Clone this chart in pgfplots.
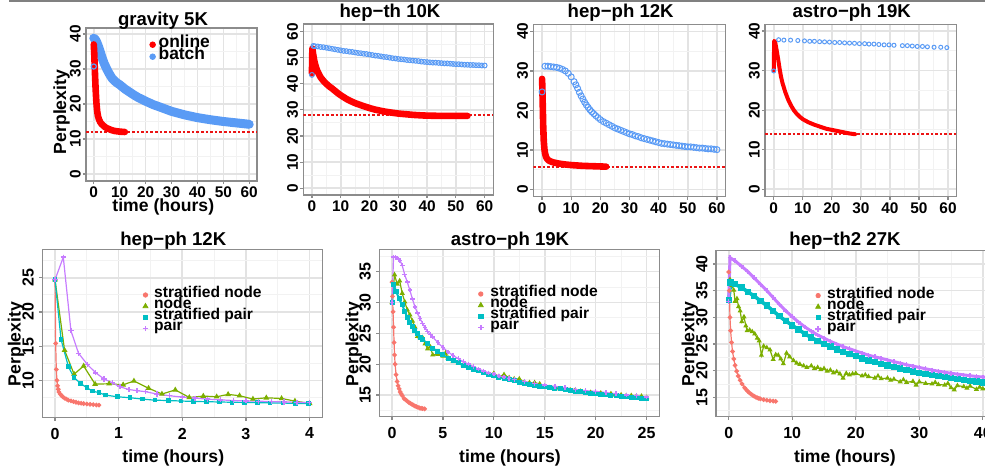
\documentclass[border=0pt]{standalone}
\usepackage{fontspec}
\setmainfont{Liberation Sans}
\usepackage{pgfplots}
\pgfplotsset{compat=1.18}
\definecolor{onl}{RGB}{255,0,0}
\definecolor{dsh}{RGB}{235,20,20}
\definecolor{bat}{HTML}{5A9BF5}
\definecolor{cA}{HTML}{F8766D}
\definecolor{cB}{HTML}{7CAE00}
\definecolor{cC}{HTML}{00BFC4}
\definecolor{cD}{HTML}{C77CFF}
\newcommand\ttl{\bfseries\fontsize{9.3}{10}\selectfont}
\newcommand\lbl{\bfseries\fontsize{8.8}{10}\selectfont}
\pgfplotsset{
 panel/.style={
  scale only axis, anchor=south west,
  axis line style={black!45, line width=0.6pt},
  tick style={black!45, line width=0.6pt},
  tick align=outside, major tick length=1.6pt, minor tick length=0pt,
  tick pos=left,
  grid=both,
  major grid style={gray!22, line width=0.8pt},
  minor grid style={gray!10, line width=0.45pt},
  /pgf/number format/assume math mode=true,
 },
 toprow/.style={panel, xmin=-3, xmax=63, xtick={0,10,...,60}, minor xtick={5,15,...,55},
  tick label style={font=\bfseries\fontsize{7.7}{8}\selectfont},
  yticklabel style={xshift=-0.8pt, rotate=90, anchor=south, inner sep=0pt},
  xticklabel style={yshift=-1pt, anchor=north, inner sep=0pt},
 },
 botrow/.style={panel,
  tick label style={font=\bfseries\fontsize{8}{9}\selectfont},
  yticklabel style={xshift=-2.4pt, rotate=90, anchor=south, inner sep=0pt},
  xticklabel style={yshift=-3.5pt, anchor=north, inner sep=0pt},
  legend cell align=left,
  legend style={draw=none, fill=none, anchor=north west, inner sep=0pt, outer sep=0pt, row sep=0pt,
    nodes={inner sep=0pt, text height=4.0pt, text depth=1.55pt, font=\bfseries\fontsize{7.8}{8}\selectfont}},
 },
 sA/.style={cA, line width=0.6pt, mark=*, mark size=0.85pt, mark options={solid}},
 sB/.style={cB, line width=0.6pt, mark=triangle*, mark size=1.1pt, mark options={solid}},
 sC/.style={cC, line width=0.6pt, mark=square*, mark size=0.85pt, mark options={solid}},
 sD/.style={cD, line width=0.6pt, mark=+, mark size=1.3pt, mark options={solid, line width=0.7pt}},
}
\begin{document}
\begin{tikzpicture}
\draw[black!50, line width=1pt] (4.5pt,233.6pt) -- (492.5pt,233.6pt);
% ---------------- panel 1: gravity 5K
\begin{axis}[toprow, at={(43pt,143.5pt)}, width=85.5pt, height=76.5pt,
  ymin=-2, ymax=41.7, ytick={0,10,...,40}, minor ytick={5,15,25,35},
  legend cell align=left,
  legend style={at={(0.371,0.93)}, anchor=north west, draw=none, fill=none, inner sep=0pt, outer sep=0pt, row sep=0pt,
    nodes={inner sep=0pt, text height=4.6pt, text depth=1.4pt, font=\bfseries\fontsize{8.7}{9}\selectfont}}]
\addplot[color=dsh, line width=0.9pt, dash pattern=on 1.3pt off 1pt, forget plot] coordinates {(-3,12.1) (63,12.1)};
\addplot[bat, line width=4.5pt, line cap=round, line join=round, forget plot] coordinates {
(0,38.8)(0.5,38.5)(1,37.9)(1.5,37)(2,36)(2.5,34.9)(3,33.7)(3.5,32.6)(4,31.6)(5,30)(6,28.6)(7,27.4)(8,26.6)(9,26)(10,25.5)(11,24.9)(12,24.3)(13,23.8)(15,22.8)(17,21.9)(20,20.8)(23,19.8)(26,19)(30,17.9)(35,16.9)(40,16.1)(45,15.5)(50,15)(55,14.6)(60,14.2)};
\addplot[onl, line width=3.3pt, line cap=round, line join=round, forget plot] coordinates {
(0,37)(0.15,35)(0.3,32)(0.5,28)(0.7,24.5)(1,20.5)(1.3,18)(1.6,16.6)(2,15.6)(2.5,14.8)(3,14.3)(4,13.6)(5,13.1)(6,12.8)(7,12.5)(8,12.3)(9,12.2)(10,12.1)(11,12.05)(12,12.0)};
\addplot[bat, only marks, mark=o, mark size=1.3pt, mark options={line width=0.6pt}, forget plot] coordinates {(0,30.7)};
\addlegendimage{legend image code/.code={\fill[onl] (0pt,0pt) circle (1.4pt); \path[draw=none,fill=none] (-1.4pt,0pt) -- (3pt,0pt);}}
\addlegendimage{legend image code/.code={\fill[bat] (0pt,0pt) circle (1.4pt); \path[draw=none,fill=none] (-1.4pt,0pt) -- (3pt,0pt);}}
\legend{online,batch}
\end{axis}
% ---------------- panel 2: hep-th 10K
\begin{axis}[toprow, at={(151.65pt,136.5pt)}, width=95pt, height=85.5pt,
  ymin=-2.6, ymax=62.9, ytick={0,10,...,60}, minor ytick={5,15,...,55}]
\addplot[color=dsh, line width=0.9pt, dash pattern=on 1.3pt off 1pt, forget plot] coordinates {(-3,28) (63,28)};
\addplot[bat, only marks, mark=o, mark size=1.2pt, mark options={line width=0.5pt}] coordinates {
(0.5,54.5)(1,54.4)(2,54.3)(3,54.1)(4,54.0)(5,53.8)(6,53.6)(7,53.4)(8,53.2)(9,53.0)(10,52.8)(11,52.6)(12,52.5)(13,52.3)(14,52.2)(15,52.0)(16,51.8)(17,51.7)(18,51.5)(19,51.4)(20,51.2)(21,51.0)(22,50.8)(23,50.7)(24,50.5)(25,50.3)(26,50.2)(27,50.0)(28,49.8)(29,49.7)(30,49.5)(31,49.4)(32,49.3)(33,49.1)(34,49.0)(35,48.9)(36,48.8)(37,48.7)(38,48.5)(39,48.4)(40,48.3)(41,48.2)(42,48.1)(43,48.1)(44,48.0)(45,47.9)(46,47.8)(47,47.8)(48,47.7)(49,47.6)(50,47.5)(51,47.5)(52,47.4)(53,47.3)(54,47.3)(55,47.2)(56,47.2)(57,47.1)(58,47.1)(59,47.0)(60,47.0)};
\addplot[onl, line width=3.3pt, line cap=round, line join=round] coordinates {
(0,44)(0.15,53.5)(0.4,51.5)(0.7,49.5)(1,47.9)(1.5,46)(2,44.6)(3,42.5)(4,41.1)(5,40)(6,39)(7,38.2)(8,37.3)(9,36.4)(10,35.6)(11,34.9)(12,34.2)(13,33.6)(14,33.1)(15,32.6)(17,31.8)(20,30.7)(22,30.1)(25,29.4)(28,28.9)(30,28.6)(33,28.3)(35,28.1)(38,27.9)(40,27.8)(45,27.7)(50,27.7)(54,27.7)};
\addplot[bat, only marks, mark=o, mark size=1.2pt, mark options={line width=0.5pt}] coordinates {(0,43.4)};
\end{axis}
% ---------------- panel 3: hep-ph 12K
\begin{axis}[toprow, at={(266.65pt,135.65pt)}, width=96.2pt, height=86.2pt,
  ymin=-1.8, ymax=41.8, ytick={0,10,...,40}, minor ytick={5,15,25,35}]
\addplot[color=dsh, line width=0.9pt, dash pattern=on 1.3pt off 1pt, forget plot] coordinates {(-3,5.7) (63,5.7)};
\addplot[bat, only marks, mark=o, mark size=1.5pt, mark options={line width=0.5pt}] coordinates {
(1,31.2)(2,31.2)(3,31.1)(4,31.0)(5,30.9)(6,30.7)(7,30.4)(8,30.0)(9,29.4)(10,28.5)(11,27.3)(11.6,26.5)(12.2,25.6)(12.8,24.6)(13.4,23.7)(14,22.9)(14.6,22.1)(15.2,21.4)(15.8,20.8)(16.4,20.2)(17,19.7)(17.7,19.2)(18.4,18.7)(19.2,18.2)(20,17.7)(21,17.2)(22,16.8)(23,16.4)(24,16.0)(25,15.6)(26,15.3)(27,15.0)(28,14.7)(29,14.4)(30,14.1)(31,13.9)(32,13.6)(33,13.4)(34,13.1)(35,12.9)(36,12.7)(37,12.5)(38,12.3)(39,12.1)(40,11.9)(41,11.7)(42,11.6)(43,11.5)(44,11.4)(45,11.3)(46,11.2)(47,11.1)(48,11.0)(49,10.9)(50,10.8)(51,10.8)(52,10.7)(53,10.6)(54,10.5)(55,10.5)(56,10.4)(57,10.3)(58,10.3)(59,10.2)(60,10.1)};
\addplot[onl, line width=3.3pt, line cap=round, line join=round] coordinates {
(0,28)(0.1,26)(0.25,21)(0.4,16)(0.6,12.2)(0.8,10.3)(1,9.3)(1.3,8.4)(1.7,7.8)(2.2,7.4)(3,7.1)(4,6.85)(5,6.7)(6,6.55)(8,6.35)(10,6.2)(12,6.1)(14,6.0)(16,5.95)(18,5.9)(20,5.85)(22,5.8)};
\addplot[bat, only marks, mark=o, mark size=1.5pt, mark options={line width=0.5pt}] coordinates {(0,24.7)};
\end{axis}
% ---------------- panel 4: astro-ph 19K
\begin{axis}[toprow, at={(382.5pt,135.65pt)}, width=95.85pt, height=86.2pt,
  ymin=-1.9, ymax=41.7, ytick={0,10,...,40}, minor ytick={5,15,25,35}]
\addplot[color=dsh, line width=1pt, dash pattern=on 1.3pt off 1pt, forget plot] coordinates {(-3,14.0) (63,14.0)};
\addplot[bat, only marks, mark=o, mark size=1pt, mark options={line width=0.5pt}] coordinates {
(1.7,37.8)(3.5,37.7)(5.8,37.7)(8.3,37.6)(10.6,37.5)(12.4,37.4)(14.0,37.4)(15.8,37.3)(17.5,37.25)(19.2,37.2)(21.0,37.1)(22.7,37.1)(24.4,37.0)(26.1,36.95)(27.8,36.9)(29.5,36.8)(31.3,36.8)(32.8,36.7)(34.5,36.7)(36.2,36.6)(38.0,36.5)(39.7,36.5)(41.4,36.4)(44.3,36.3)(46.0,36.3)(47.7,36.2)(49.4,36.1)(51.2,36.1)(52.9,36.0)(55.2,35.9)(57.5,35.9)(59.6,35.8)};
\addplot[onl, line width=2pt, line cap=round, line join=round] coordinates {
(0,30)(0.15,37.5)(0.5,37.2)(1,35.2)(1.5,33)(2,30.6)(2.5,28.5)(3,26.9)(4,24.5)(5,22.6)(6,21.1)(7,19.9)(8,19)(9,18.3)(10,17.7)(12,16.9)(14,16.3)(16,15.8)(18,15.3)(20,15)(22,14.7)(24,14.4)(26,14.1)(28,13.9)};
\addplot[bat, only marks, mark=o, mark size=1pt, mark options={line width=0.5pt}] coordinates {(0,29.9)};
\end{axis}
% ---------------- panel 5: hep-ph 12K bottom
\begin{axis}[botrow, at={(21.15pt,25.35pt)}, width=140pt, height=84pt,
  xmin=-0.2, xmax=4.2, ymin=4.6, ymax=29.15,
  xtick={0,1,2,3,4}, minor xtick={0.5,1.5,2.5,3.5},
  ytick={10,15,20,25}, minor ytick={7.5,12.5,17.5,22.5,27.5},
  legend style={at={(0.356,0.761)}}]
\addplot[sA, forget plot] coordinates {(0,24.7)(0.01,15.4)(0.02,11.6)(0.03,10.0)(0.04,9.2)(0.05,8.7)(0.06,8.3)(0.08,8.0)(0.1,7.8)(0.12,7.6)(0.15,7.4)(0.18,7.25)(0.21,7.1)(0.25,7.0)(0.29,6.9)(0.33,6.8)(0.37,6.7)(0.41,6.65)(0.45,6.6)(0.5,6.55)(0.55,6.5)(0.6,6.45)(0.65,6.4)(0.69,6.38)};
\addplot[sB, forget plot] coordinates {(0,24.7)(0.15,14.4)(0.3,10.9)(0.45,12.1)(0.63,9.45)(0.85,9.5)(1.07,9.35)(1.24,9.9)(1.47,8.85)(1.68,8.0)(1.89,8.6)(2.11,7.5)(2.33,7.7)(2.54,7.6)(2.72,7.95)(2.9,7.75)(3.11,7.27)(3.32,7.45)(3.56,7.35)(3.77,6.97)(4.0,6.64)};
\addplot[sC, forget plot] coordinates {(0,24.7)(0.094,16.0)(0.21,12.0)(0.3,10.4)(0.4,9.56)(0.5,8.92)(0.59,8.43)(0.69,8.2)(0.79,7.85)(0.98,7.6)(1.18,7.46)(1.37,7.27)(1.57,7.1)(1.78,7.05)(1.98,6.98)(2.18,6.92)(2.38,6.88)(2.58,6.84)(2.78,6.8)(2.98,6.77)(3.18,6.74)(3.38,6.71)(3.58,6.68)(3.78,6.64)(3.98,6.6)};
\addplot[sD, forget plot] coordinates {(0,24.7)(0.13,28.0)(0.25,17.25)(0.37,13.95)(0.51,12.3)(0.64,11.1)(0.77,10.2)(0.9,9.65)(1.02,9.06)(1.16,8.67)(1.29,8.48)(1.42,8.35)(1.6,8.0)(1.8,7.75)(2.0,7.55)(2.2,7.4)(2.4,7.25)(2.6,7.15)(2.8,7.05)(3.0,7.0)(3.2,6.95)(3.4,6.9)(3.6,6.85)(3.8,6.8)(4.0,6.75)};
\addlegendimage{legend image code/.code={\fill[cA] (0pt,0pt) circle (1.1pt); \path[draw=none,fill=none] (-1.2pt,0pt) -- (4.35pt,0pt);}}
\addlegendimage{legend image code/.code={\fill[cB] (0pt,1.3pt) -- (-1.2pt,-0.8pt) -- (1.2pt,-0.8pt) -- cycle; \path[draw=none,fill=none] (-1.2pt,0pt) -- (4.35pt,0pt);}}
\addlegendimage{legend image code/.code={\fill[cC] (-1.05pt,-1.05pt) rectangle (1.05pt,1.05pt); \path[draw=none,fill=none] (-1.2pt,0pt) -- (4.35pt,0pt);}}
\addlegendimage{legend image code/.code={\draw[cD, line width=0.7pt] (-1.4pt,0pt) -- (1.4pt,0pt) (0pt,-1.4pt) -- (0pt,1.4pt); \path[draw=none,fill=none] (-1.2pt,0pt) -- (4.35pt,0pt);}}
\legend{stratified node,node,stratified pair,pair}
\end{axis}
% ---------------- panel 6: astro-ph 19K bottom
\begin{axis}[botrow, at={(189.65pt,25.65pt)}, width=140pt, height=83.7pt,
  xmin=-1.25, xmax=26.25, ymin=11.48, ymax=38.63,
  xtick={0,5,...,25}, minor xtick={2.5,7.5,...,22.5},
  ytick={15,20,...,35}, minor ytick={12.5,17.5,...,37.5},
  legend style={at={(0.35,0.766)}}]
\addplot[sA, forget plot] coordinates {(0,33.3)(0.05,31)(0.1,28.5)(0.15,26)(0.2,23.5)(0.25,21.5)(0.3,20)(0.4,18.3)(0.5,17.2)(0.6,16.5)(0.7,16)(0.8,15.5)(0.9,15.2)(1.0,14.9)(1.2,14.4)(1.35,14.2)(1.5,14)(1.65,13.8)(1.8,13.65)(1.95,13.5)(2.1,13.35)(2.25,13.2)(2.4,13.1)(2.55,13.0)(2.7,12.9)(2.85,12.85)(3.0,12.8)(3.2,12.75)};
\addplot[sB, mark size=0.95pt, forget plot] coordinates {(0,30)(0.25,34.5)(0.5,33)(0.75,33.5)(1.0,31.5)(1.25,30.1)(1.5,28.8)(1.75,28)(2,27)(2.25,26)(2.5,24.5)(2.75,24.3)(3,24.3)(3.25,23.3)(3.5,22.5)(3.75,22.8)(4,21.5)(4.5,21.6)(5,21.3)(5.25,21.8)(5.5,21)(6,20.5)(6.5,20.2)(7,19.9)(7.5,19.6)(8,19.1)(8.5,18.9)(9,18.6)(9.5,18.4)(10,18.5)(10.5,18.0)(11,18.3)(11.5,17.8)(12,17.6)(12.5,17.6)(13,17.1)(13.5,17.0)(14,17.0)(14.5,16.8)(15,16.4)(15.5,16.2)(16,16.3)(16.5,16.0)(17,16.0)(17.5,15.8)(18,15.8)(18.5,15.6)(19,15.5)(19.5,15.4)(20,15.3)(20.5,15.3)(21,15.2)(21.5,15.2)(22,15.0)(22.5,15.0)(23,14.9)(23.5,14.9)(24,14.8)(24.5,14.8)(25,14.6)};
\addplot[sC, line width=1pt, mark size=0.75pt, forget plot] coordinates {(0,30)(0.15,33)(0.4,31.8)(0.7,30.6)(1,29.6)(1.25,28.6)(1.5,27.6)(1.75,26.8)(2,26.1)(2.25,25.5)(2.5,24.9)(2.75,24.4)(3,24)(3.5,23.3)(4,22.6)(4.5,22)(5,21.5)(5.5,21)(6,20.6)(6.5,20.2)(7,19.8)(7.5,19.5)(8,19.2)(8.5,18.9)(9,18.6)(9.5,18.35)(10,18.1)(10.5,17.9)(11,17.7)(11.5,17.5)(12,17.3)(12.5,17.1)(13,16.9)(13.5,16.75)(14,16.6)(14.5,16.45)(15,16.3)(15.5,16.2)(16,16.1)(16.5,16)(17,15.9)(17.5,15.75)(18,15.6)(18.5,15.5)(19,15.4)(19.5,15.3)(20,15.2)(20.5,15.15)(21,15.1)(21.5,15)(22,14.9)(22.5,14.8)(23,14.7)(23.5,14.65)(24,14.6)(24.5,14.5)(25,14.4)};
\addplot[sD, mark size=1.15pt, forget plot] coordinates {(0,30)(0.15,37.4)(0.35,37.3)(0.5,37.2)(0.65,37)(0.8,36.8)(1.0,36)(1.25,34.5)(1.5,33.3)(1.75,32)(2,30.6)(2.25,29.3)(2.5,28.3)(2.75,27.4)(3,26.6)(3.25,25.9)(3.5,25.3)(3.75,24.8)(4,24.4)(4.5,23.5)(5,22.7)(5.5,22)(6,21.4)(6.5,20.9)(7,20.4)(7.5,20)(8,19.6)(8.5,19.2)(9,18.9)(9.5,18.6)(10,18.4)(10.5,18.1)(11,17.9)(11.5,17.7)(12,17.5)(13,17.2)(14,16.9)(15,16.6)(16,16.4)(17,16.2)(18,15.9)(19,15.7)(20,15.6)(21,15.4)(22,15.2)(23,15.0)(24,14.9)(25,14.7)};
\addlegendimage{legend image code/.code={\fill[cA] (0pt,0pt) circle (1.1pt); \path[draw=none,fill=none] (-1.2pt,0pt) -- (4.8pt,0pt);}}
\addlegendimage{legend image code/.code={\fill[cB] (0pt,1.3pt) -- (-1.2pt,-0.8pt) -- (1.2pt,-0.8pt) -- cycle; \path[draw=none,fill=none] (-1.2pt,0pt) -- (4.8pt,0pt);}}
\addlegendimage{legend image code/.code={\fill[cC] (-1.05pt,-1.05pt) rectangle (1.05pt,1.05pt); \path[draw=none,fill=none] (-1.2pt,0pt) -- (4.8pt,0pt);}}
\addlegendimage{legend image code/.code={\draw[cD, line width=0.7pt] (-1.4pt,0pt) -- (1.4pt,0pt) (0pt,-1.4pt) -- (0pt,1.4pt); \path[draw=none,fill=none] (-1.2pt,0pt) -- (4.8pt,0pt);}}
\legend{stratified node,node,stratified pair,pair}
\end{axis}
% ---------------- panel 7: hep-th2 27K bottom
\begin{axis}[botrow, at={(358pt,25.65pt)}, width=144.2pt, height=83pt,
  xmin=-2, xmax=43.4, ymin=11.36, ymax=42.5,
  xtick={0,10,...,40}, minor xtick={5,15,25,35},
  ytick={15,20,...,40}, minor ytick={12.5,17.5,...,37.5},
  legend style={at={(0.342,0.763)}}]
\addplot[sA, forget plot] coordinates {(0,38.5)(0.1,35)(0.2,30)(0.3,27.5)(0.45,25.3)(0.6,23.6)(0.8,22.2)(1.0,21)(1.25,19.9)(1.5,19)(1.8,18.2)(2.1,17.5)(2.5,16.8)(2.75,16.45)(3,16.1)(3.25,15.85)(3.5,15.6)(3.75,15.4)(4,15.2)(4.25,15.05)(4.5,14.9)(4.75,14.8)(5,14.7)(5.5,14.55)(6,14.45)(6.5,14.35)(7,14.3)(7.4,14.25)};
\addplot[sB, mark size=0.9pt, forget plot] coordinates {(0,33)(0.2,37.1)(0.5,36)(0.8,35.1)(1.0,33)(1.3,33.5)(1.55,32)(1.8,31.2)(2.06,29.2)(2.4,30.1)(2.7,28.4)(2.9,27.5)(3.3,27.6)(3.7,27.3)(4.1,26.9)(4.5,26.1)(4.8,25.6)(5.15,22.9)(5.5,24.6)(6,24.3)(6.5,23.9)(7.0,22.1)(7.4,23.0)(7.8,22.9)(8.2,22.2)(8.6,21.3)(9.1,23.3)(9.6,22.6)(10.2,21.9)(10.7,21.4)(11.2,21.2)(11.8,20.9)(12.3,20.6)(13,20.9)(13.5,20.4)(14,20.6)(14.5,20.2)(15,20.4)(15.5,19.9)(16,20.1)(16.5,19.6)(17,19.8)(17.5,19.4)(18,18.6)(18.5,19.5)(19,19.2)(19.5,19.4)(20,19.5)(21,19.0)(21.5,19.2)(22,18.9)(23,18.6)(23.5,19.0)(24,18.5)(25,18.6)(25.5,18.2)(26,18.4)(27,17.9)(27.5,18.3)(28,17.8)(29,18.0)(29.5,17.3)(30,17.9)(31,17.6)(32,17.5)(32.5,17.8)(33,17.4)(34,17.3)(34.5,17.6)(35,16.8)(35.5,16.4)(36,17.2)(37,17.0)(37.5,16.7)(38,17.1)(39,16.5)(39.5,16.9)(40,16.6)(41,16.7)};
\addplot[sC, line width=1.8pt, mark size=0.7pt, forget plot] coordinates {(0,33.2)(0.3,36.5)(1,36.2)(2,35.6)(3,34.8)(4,34.0)(5,33.1)(6,32.2)(7,31.2)(8,30.2)(9,29.3)(10,28.5)(11,27.7)(12,26.9)(13,26.2)(14,25.6)(15,25.0)(16,24.5)(17,24.0)(18,23.5)(19,23.1)(20,22.7)(21,22.3)(22,21.9)(23,21.6)(24,21.3)(25,21.0)(26,20.7)(27,20.4)(28,20.1)(29,19.85)(30,19.6)(31,19.4)(32,19.2)(33,19.0)(34,18.8)(35,18.6)(36,18.4)(37,18.25)(38,18.1)(39,17.95)(40,17.8)(41,17.7)};
\addplot[sD, line width=1.5pt, mark size=1.2pt, forget plot] coordinates {(0,33)(0.2,41.2)(1,40.6)(2,39.6)(3,38.6)(4,37.4)(5,36.2)(6,35)(7,33.7)(8,32.4)(9,31.2)(10,30.1)(11,29.1)(12,28.2)(13,27.4)(14,26.7)(15,26.1)(16,25.5)(17,25.0)(18,24.5)(19,24.1)(20,23.7)(21,23.3)(22,22.9)(23,22.6)(24,22.3)(25,22.0)(26,21.7)(27,21.4)(28,21.1)(29,20.85)(30,20.6)(31,20.35)(32,20.1)(33,19.9)(34,19.7)(35,19.5)(36,19.35)(37,19.2)(38,19.05)(39,18.9)(40,18.8)(41,18.7)};
\addlegendimage{legend image code/.code={\fill[cA] (0pt,0pt) circle (1.1pt); \path[draw=none,fill=none] (-1.2pt,0pt) -- (4.5pt,0pt);}}
\addlegendimage{legend image code/.code={\fill[cB] (0pt,1.3pt) -- (-1.2pt,-0.8pt) -- (1.2pt,-0.8pt) -- cycle; \path[draw=none,fill=none] (-1.2pt,0pt) -- (4.5pt,0pt);}}
\addlegendimage{legend image code/.code={\fill[cC] (-1.05pt,-1.05pt) rectangle (1.05pt,1.05pt); \path[draw=none,fill=none] (-1.2pt,0pt) -- (4.5pt,0pt);}}
\addlegendimage{legend image code/.code={\draw[cD, line width=0.7pt] (-1.4pt,0pt) -- (1.4pt,0pt) (0pt,-1.4pt) -- (0pt,1.4pt); \path[draw=none,fill=none] (-1.2pt,0pt) -- (4.5pt,0pt);}}
\legend{stratified node,node,stratified pair,pair}
\end{axis}
% ---------------- titles and labels
\node[anchor=base, font=\ttl] at (81.5pt,221.5pt) {gravity 5K};
\node[anchor=base, font=\ttl] at (195pt,225.15pt) {hep−th 10K};
\node[anchor=base, font=\ttl] at (310.35pt,225.15pt) {hep−ph 12K};
\node[anchor=base, font=\ttl] at (425.85pt,225.15pt) {astro−ph 19K};
\node[anchor=base, font=\ttl] at (86.65pt,111.5pt) {hep−ph 12K};
\node[anchor=base, font=\ttl] at (255pt,111.5pt) {astro−ph 19K};
\node[anchor=base, font=\ttl] at (422.5pt,111.3pt) {hep−th2 27K};
\node[anchor=base, font=\lbl] at (81.65pt,128.5pt) {time (hours)};
\node[anchor=base, font=\lbl, rotate=90] at (33pt,178pt) {Perplexity};
\node[anchor=base, font=\lbl] at (86.65pt,2.8pt) {time (hours)};
\node[anchor=base, font=\lbl] at (255pt,2.8pt) {time (hours)};
\node[anchor=base, font=\lbl] at (422.5pt,2.8pt) {time (hours)};
\node[anchor=base, font=\lbl, rotate=90] at (10.35pt,62pt) {Perplexity};
\node[anchor=base, font=\lbl, rotate=90] at (179.15pt,62pt) {Perplexity};
\node[anchor=base, font=\lbl, rotate=90] at (347.15pt,62pt) {Perplexity};
\pgfresetboundingbox
\path[use as bounding box] (0pt,0pt) rectangle (492.5pt,234pt);
\end{tikzpicture}
\end{document}
